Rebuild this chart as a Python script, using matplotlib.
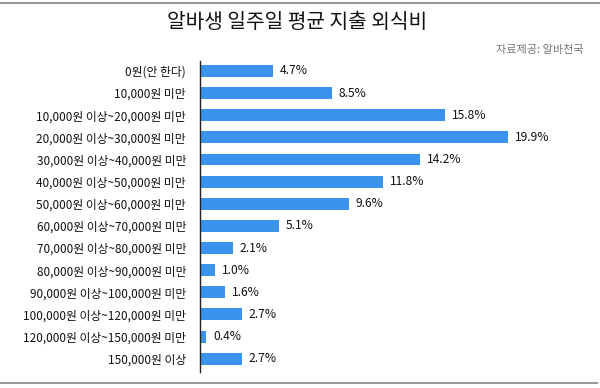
import matplotlib
matplotlib.use('Agg')
import matplotlib.pyplot as plt
from matplotlib.lines import Line2D

plt.rcParams['font.family'] = ['Noto Sans CJK KR', 'DejaVu Sans']

categories = ['0원(안 한다)', '10,000원 미만',
              '10,000원 이상~20,000원 미만', '20,000원 이상~30,000원 미만',
              '30,000원 이상~40,000원 미만', '40,000원 이상~50,000원 미만',
              '50,000원 이상~60,000원 미만', '60,000원 이상~70,000원 미만',
              '70,000원 이상~80,000원 미만', '80,000원 이상~90,000원 미만',
              '90,000원 이상~100,000원 미만', '100,000원 이상~120,000원 미만',
              '120,000원 이상~150,000원 미만', '150,000원 이상']
values = [4.7, 8.5, 15.8, 19.9, 14.2, 11.8, 9.6, 5.1, 2.1, 1.0, 1.6, 2.7, 0.4, 2.7]
title = '알바생 일주일 평균 지출 외식비'
source = '자료제공: 알바천국'

W, H = 600, 388
fig = plt.figure(figsize=(W / 100, H / 100), dpi=100)
ax = fig.add_axes([200 / W, 1 - 372 / H, 387 / W, (372 - 61) / H])

pos = list(range(len(categories)))
ax.barh(pos, values, height=0.54, color='#3a93ee')
for y, v in zip(pos, values):
    ax.text(v + 0.45, y, f'{v}%', va='center', ha='left', fontsize=8.7,
            fontweight='medium', color='#111111')

ax.set_xlim(0, 25)
ax.set_ylim(13.6, -0.45)
ax.set_yticks(pos)
ax.set_yticklabels(categories, fontsize=8.5, color='#111111')
ax.tick_params(axis='y', length=0, pad=10)
ax.set_xticks([])
for side in ['top', 'right', 'bottom']:
    ax.spines[side].set_visible(False)
ax.spines['left'].set_color('#222222')
ax.spines['left'].set_linewidth(1.0)

fig.text(297 / W, 1 - 23 / H, title, ha='center', va='center', fontsize=14.6,
         color='#111111')
fig.text(584 / W, 1 - 50 / H, source, ha='right', va='center', fontsize=8,
         color='#777777')

# grey frame lines top and bottom
fig.add_artist(Line2D([0, 1], [1 - 3 / H, 1 - 3 / H], color='#999999', lw=1.5,
                      transform=fig.transFigure))
fig.add_artist(Line2D([0, 597 / W], [1 - 383 / H, 1 - 383 / H], color='#999999',
                      lw=1.5, transform=fig.transFigure))

fig.savefig('out.png', dpi=100)
